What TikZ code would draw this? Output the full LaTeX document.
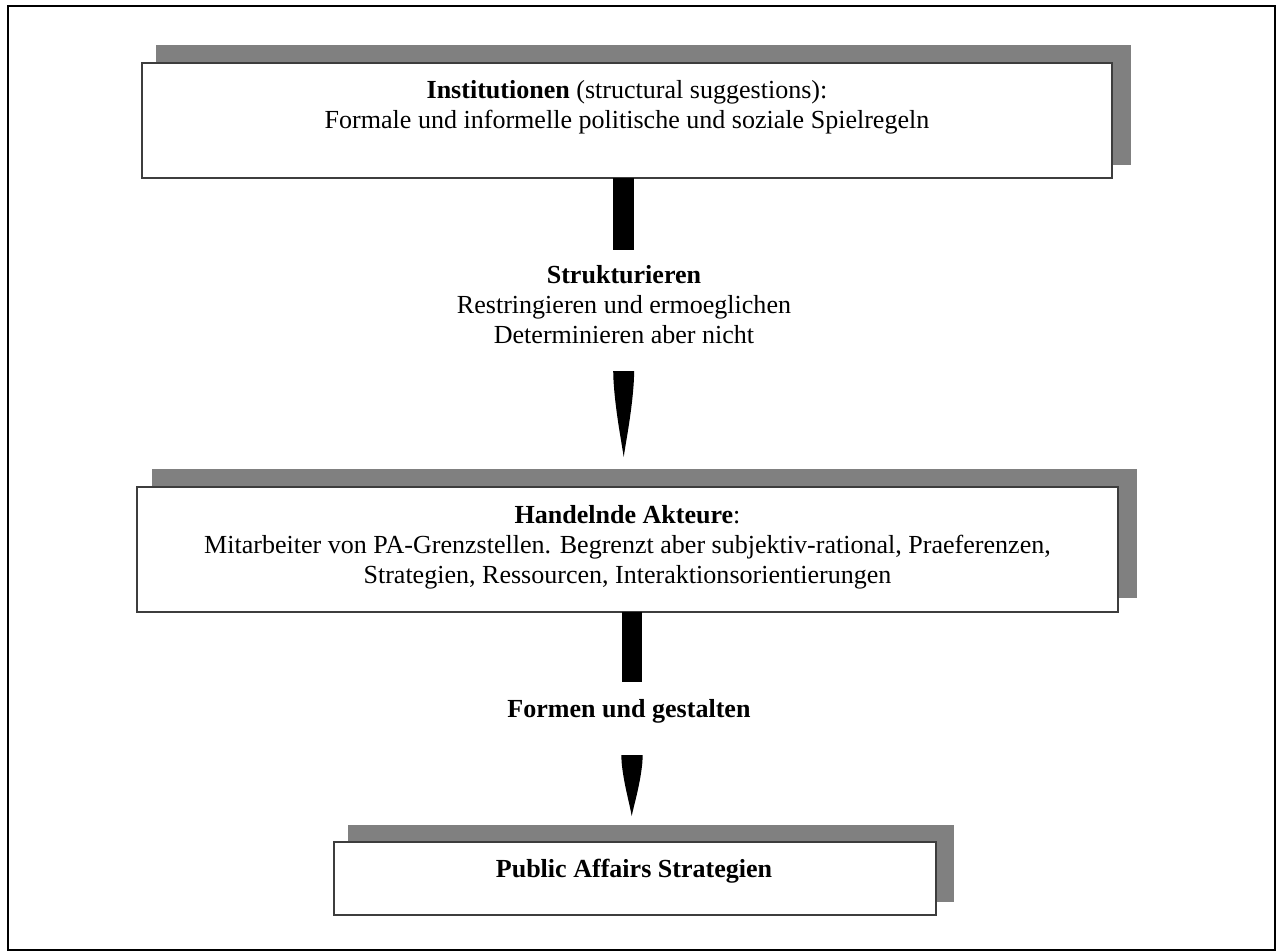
\documentclass[tikz,border=0pt]{standalone}
\usepackage{fontspec}
\setmainfont{Liberation Serif}
\usetikzlibrary{backgrounds,calc}
\begin{document}
\begin{tikzpicture}[x=0.48pt, y=-0.48pt,
  font=\fontsize{12.5}{14.4}\selectfont,
  panel/.style={draw=black!76, line width=0.96pt, fill=white, rectangle, inner sep=0pt},
  shade/.style={fill=black!50},
  txt/.style={align=center, inner sep=0pt},
  bar/.style={fill=black},
]
\useasboundingbox (0,0) rectangle (1276,951);
\draw[line width=0.8pt] (8.2,6.2) rectangle (1274.7,950);

% panels
\node[panel, minimum width=970*0.48pt, minimum height=115*0.48pt] (inst) at (627,120.5) {};
\node[panel, minimum width=981*0.48pt, minimum height=125*0.48pt] (akt) at (627.5,549.5) {};
\node[panel, minimum width=602*0.48pt, minimum height=73*0.48pt] (pas) at (635,878.5) {};

% offset shadows behind the panels
\begin{pgfonlayer}{background}
  \fill[shade] ([shift={(15,-14)}]inst.south west) rectangle ([shift={(18,-17)}]inst.north east);
  \fill[shade] ([shift={(16,-15)}]akt.south west) rectangle ([shift={(18,-17)}]akt.north east);
  \fill[shade] ([shift={(15,-14)}]pas.south west) rectangle ([shift={(17,-16)}]pas.north east);
\end{pgfonlayer}

% panel texts
\node[txt] (instT) at (627,107) {\textbf{Institutionen} (structural suggestions):\\
  Formale und informelle politische und soziale Spielregeln};
\node[txt] (aktT) at (627.5,547) {\textbf{Handelnde Akteure}:\\
  Mitarbeiter von PA-Grenzstellen. Begrenzt aber subjektiv-rational, Praeferenzen,\\
  Strategien, Ressourcen, Interaktionsorientierungen};
\node[txt, anchor=base] (pasT) at (634,877) {\textbf{Public Affairs Strategien}};

% connector labels
\node[txt] (struk) at (624,305) {\textbf{Strukturieren}\\
  Restringieren und ermoeglichen\\
  Determinieren aber nicht};
\node[txt, anchor=base] (form) at (629,717) {\textbf{Formen und gestalten}};

% connector pieces: a bar leaving one panel, a pointed head towards the next
\coordinate (b1) at (623.7,178);
\coordinate (e1) at (623.7,250);
\coordinate (h1) at (623.7,371);
\coordinate (t1) at (623.7,457);
\coordinate (b2) at (632,612);
\coordinate (e2) at (632,682);
\coordinate (h2) at (632,755);
\coordinate (t2) at (631.7,816);

\fill[bar] ($(b1)+(-10.4,0)$) rectangle ($(e1)+(10.4,0)$);
\fill[bar] ($(h1)+(-10.5,0)$) -- ($(h1)+(10.5,0)$) -- ($(h1)+(10.2,9)$)
  .. controls ($(h1)+(8.5,39)$) and ($(h1)+(2.5,69)$) .. (t1)
  .. controls ($(h1)+(-2.5,69)$) and ($(h1)+(-8.5,39)$) .. ($(h1)+(-10.2,9)$) -- cycle;

\fill[bar] ($(b2)+(-10.3,0)$) rectangle ($(e2)+(10.3,0)$);
\fill[bar] ($(h2)+(-10.7,0)$) -- ($(h2)+(10.7,0)$) -- ($(h2)+(10.4,7)$)
  .. controls ($(h2)+(8.5,28)$) and ($(h2)+(2.5,48)$) .. (t2)
  .. controls ($(h2)+(-2.5,48)$) and ($(h2)+(-8.5,28)$) .. ($(h2)+(-10.4,7)$) -- cycle;
\end{tikzpicture}
\end{document}
